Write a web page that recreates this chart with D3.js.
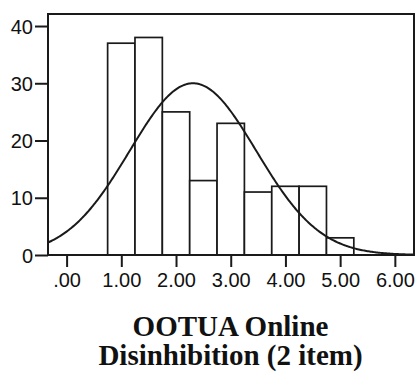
<!DOCTYPE html>
<html>
<head>
<meta charset="utf-8">
<script src="https://cdn.jsdelivr.net/npm/d3@7"></script>
<style>
  body { margin: 0; background: #fff; }
  svg { display: block; }
</style>
</head>
<body>
<div id="chart"></div>
<script>
// histogram bins (lower edge, width 0.5) and counts
var binStarts = [0.75, 1.25, 1.75, 2.25, 2.75, 3.25, 3.75, 4.25, 4.75];
var binWidth = 0.5;
var counts = [37, 38, 25, 13, 23, 11, 12, 12, 3];

// fitted normal curve parameters (SPSS style)
var mean = 2.31, sd = 1.157;

var xTicks = [0, 1, 2, 3, 4, 5, 6];
var yTicks = [0, 10, 20, 30, 40];
var titleLines = ["OOTUA Online", "Disinhibition (2 item)"];

var W = 416, H = 376,
    m = {top: 14, right: 2, bottom: 121, left: 48};

var svg = d3.select("#chart").append("svg")
    .attr("width", W)
    .attr("height", H);

var x = d3.scaleLinear().domain([-0.34, 6.35]).range([m.left, W - m.right]);
var y = d3.scaleLinear().domain([0, 42.1]).range([H - m.bottom, m.top]);

var ink = "#1a1a1a";

// bars
svg.selectAll("rect.bar")
    .data(counts)
    .enter()
    .append("rect")
        .attr("class", "bar")
        .attr("x", function(d, i){ return x(binStarts[i]) })
        .attr("y", function(d){ return y(d) })
        .attr("width", function(d, i){ return x(binStarts[i] + binWidth) - x(binStarts[i]) })
        .attr("height", function(d){ return y(0) - y(d) })
        .attr("fill", "#fff")
        .attr("stroke", ink)
        .attr("stroke-width", 1.7);

// normal curve scaled to counts
var n = d3.sum(counts);
var curve = d3.range(x.domain()[0], x.domain()[1] + 0.01, 0.02).map(function(v){
    var z = (v - mean) / sd;
    return [v, n * binWidth * Math.exp(-0.5 * z * z) / (sd * Math.sqrt(2 * Math.PI))];
});

svg.append("path")
    .datum(curve)
    .attr("fill", "none")
    .attr("stroke", ink)
    .attr("stroke-width", 2)
    .attr("d", d3.line()
        .x(function(d){ return x(d[0]) })
        .y(function(d){ return y(d[1]) }));

// frame
svg.append("rect")
    .attr("x", m.left)
    .attr("y", m.top)
    .attr("width", W - m.right - m.left)
    .attr("height", H - m.bottom - m.top)
    .attr("fill", "none")
    .attr("stroke", ink)
    .attr("stroke-width", 2);

// axes
var yAxis = svg.append("g")
    .attr("transform", "translate(" + m.left + ",0)")
    .call(d3.axisLeft(y).tickValues(yTicks).tickSize(13).tickPadding(2).tickFormat(d3.format("d")));

var xAxis = svg.append("g")
    .attr("transform", "translate(0," + y(0) + ")")
    .call(d3.axisBottom(x).tickValues(xTicks).tickSize(12).tickPadding(6)
        .tickFormat(function(d){ return d === 0 ? ".00" : d3.format(".2f")(d) }));

[yAxis, xAxis].forEach(function(g){
    g.select(".domain").remove();
    g.selectAll(".tick line").attr("stroke", ink).attr("stroke-width", 2);
    g.selectAll(".tick text")
        .attr("fill", "#111")
        .style("font-family", "'Liberation Sans', Arial, sans-serif")
        .style("font-size", "20px");
});
yAxis.selectAll(".tick text").attr("dy", "0.36em");

// axis title, two lines
svg.selectAll("text.title")
    .data(titleLines)
    .enter()
    .append("text")
        .attr("class", "title")
        .attr("text-anchor", "middle")
        .attr("x", 230.5)
        .attr("y", function(d, i){ return 336 + i * 29 })
        .style("font-family", "'Liberation Serif', 'Times New Roman', serif")
        .style("font-weight", "bold")
        .style("font-size", "29px")
        .attr("fill", "#111")
        .text(function(d){ return d });
</script>
</body>
</html>
